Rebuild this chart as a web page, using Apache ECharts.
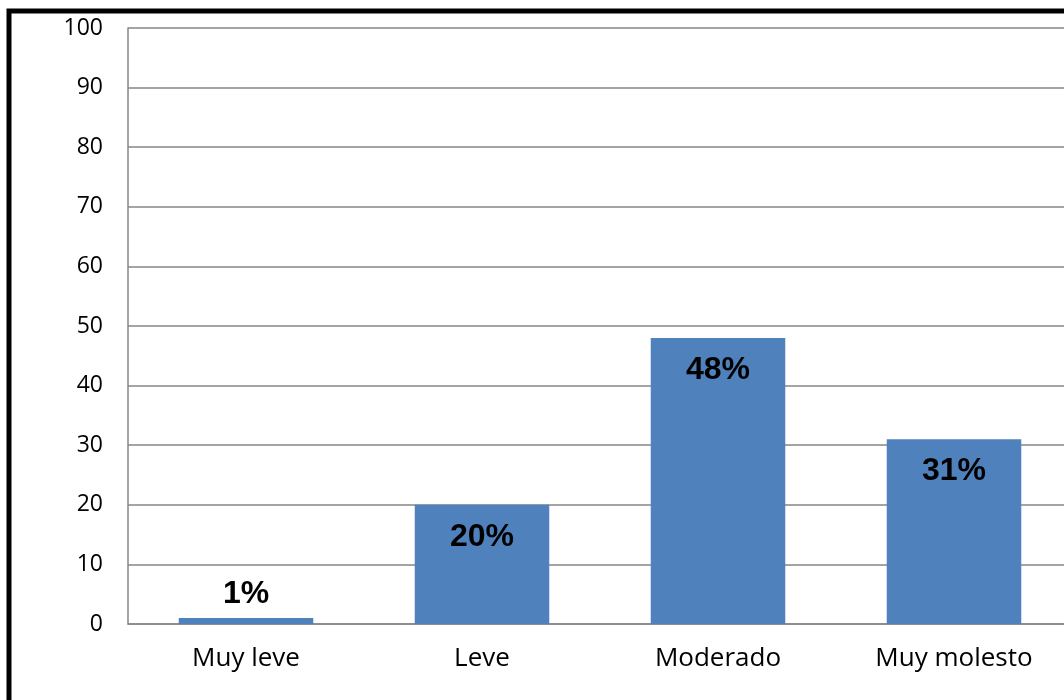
<!DOCTYPE html>
<html>
<head>
<meta charset="utf-8">
<script src="https://cdn.jsdelivr.net/npm/echarts@6/dist/echarts.min.js"></script>
<style>
  html, body { margin: 0; padding: 0; background: #fff; overflow: hidden; }
  /* the original plot runs past the right edge of the picture */
  #chart { width: 1090px; height: 700px; }
</style>
</head>
<body>
<div id="chart"></div>
<script>
// Data
const categories = ["Muy leve", "Leve", "Moderado", "Muy molesto"];
const values = [1, 20, 48, 31];
const yTicks = [0, 10, 20, 30, 40, 50, 60, 70, 80, 90, 100];

const chart = echarts.init(document.getElementById("chart"), null, { renderer: "canvas" });

// small bars get their label on top, the rest inside
const barData = values.map((v) => ({
  value: v,
  label: v < 5
    ? { position: "top", distance: 8 }
    : { position: "insideTop", distance: 16 },
}));

const option = {
  animation: false,
  grid: { left: 128, top: 28, width: 944, height: 596 },
  xAxis: {
    type: "category",
    data: categories,
    axisLine: { lineStyle: { color: "#868686", width: 1.5 } },
    axisTick: { show: false },
    axisLabel: {
      color: "#000",
      fontFamily: "Open Sans",
      fontSize: 26,
      margin: 22,
    },
  },
  yAxis: {
    type: "value",
    min: yTicks[0],
    max: yTicks[yTicks.length - 1],
    interval: 10,
    axisLine: { show: true, lineStyle: { color: "#868686", width: 1.5 } },
    axisTick: { show: false },
    splitLine: { lineStyle: { color: "#868686", width: 1.5 } },
    axisLabel: {
      color: "#000",
      fontFamily: "Open Sans",
      fontSize: 23,
      margin: 25,
    },
  },
  series: [
    {
      type: "bar",
      data: barData,
      barWidth: "57%",
      itemStyle: { color: "#4F81BD" },
      label: {
        show: true,
        formatter: "{c}%",
        color: "#000",
        fontFamily: "Liberation Sans",
        fontWeight: "bold",
        fontSize: 32,
      },
    },
  ],
  graphic: [
    {
      type: "rect",
      silent: true,
      shape: { x: 9, y: 11, width: 1200, height: 900 },
      style: { fill: null, stroke: "#000", lineWidth: 5 },
      z: 100,
    },
  ],
};

chart.setOption(option);
</script>
</body>
</html>
